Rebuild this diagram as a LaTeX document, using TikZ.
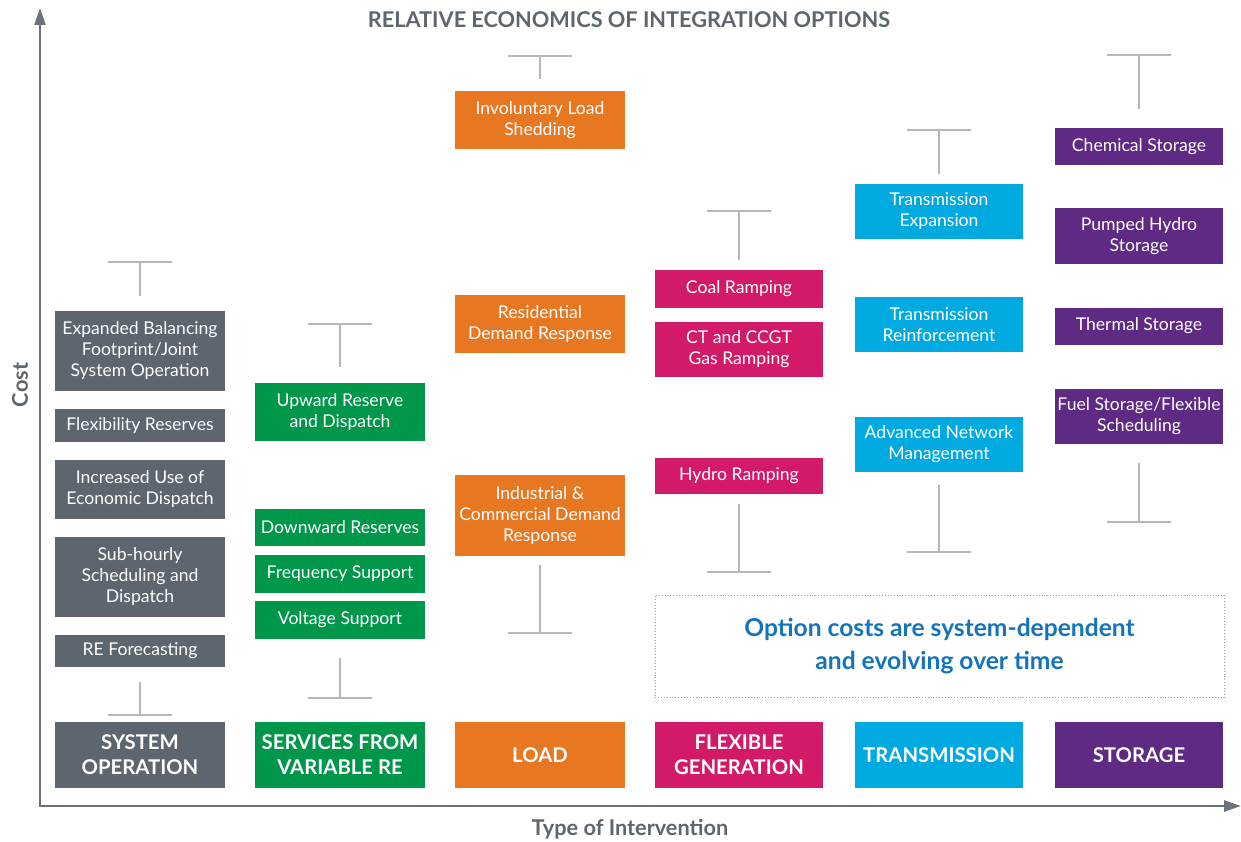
\documentclass[tikz,border=0pt]{standalone}
\usepackage{fontspec}
\setmainfont{Lato}
\usetikzlibrary{arrows.meta}
\definecolor{cgray}{HTML}{5D666E}
\definecolor{cgreen}{HTML}{00974A}
\definecolor{corange}{HTML}{E87722}
\definecolor{cpink}{HTML}{D31A68}
\definecolor{cblue}{HTML}{00A9E0}
\definecolor{cpurple}{HTML}{5E2A84}
\definecolor{whiskgray}{HTML}{B5B8BB}
\definecolor{axisgray}{HTML}{6B737A}
\definecolor{notblue}{HTML}{1474BA}
\definecolor{dotgray}{HTML}{9A9FA4}
\begin{document}
\begin{tikzpicture}[x=1pt,y=-1pt,
  opt/.style={inner sep=0pt, align=center, text=white, font=\fontsize{17.6}{21}\selectfont, minimum width=170pt},
  opts/.style={opt, minimum width=168pt},
  cat/.style={inner sep=0pt, align=center, text=white, font=\bfseries\fontsize{20.3}{25}\selectfont, minimum height=66pt},
  whisk/.style={draw=whiskgray, line width=1.8pt},
  axis/.style={draw=axisgray, line width=2.6pt, -{Triangle[length=17pt,width=11pt]}},
  lbl/.style={text=cgray, font=\bfseries\fontsize{21.7}{25}\selectfont}
]
\useasboundingbox (0,0) rectangle (1241,842);

% axes
\coordinate (o) at (40,806);
\coordinate (ytop) at (40,8);
\coordinate (xend) at (1241,806);
\draw[axis] (o) -- (ytop);
\draw[axis] ([xshift=-1.3pt]o) -- (xend);
\node[lbl] (title) at (629,19.5) {RELATIVE ECONOMICS OF INTEGRATION OPTIONS};
\node[lbl, rotate=90] (cost) at (20,385) {Cost};
\node[lbl] (toi) at (630,829) {Type of Intervention};

% column 1: system operation
\node[opt, fill=cgray, minimum height=80pt] (exp) at (140,351) {Expanded Balancing\\Footprint/Joint\\System Operation};
\node[opt, fill=cgray, minimum height=33pt] (flexres) at (140,425.5) {Flexibility Reserves};
\node[opt, fill=cgray, minimum height=59pt] (inc) at (140,489.5) {Increased Use of\\Economic Dispatch};
\node[opt, fill=cgray, minimum height=80pt] (sub) at (140,577) {Sub-hourly\\Scheduling and\\Dispatch};
\node[opt, fill=cgray, minimum height=32pt] (ref) at (140,651) {RE Forecasting};
\node[cat, fill=cgray, minimum width=170pt] (sysop) at (140,755) {SYSTEM\\OPERATION};

% column 2: services from variable RE
\node[opt, fill=cgreen, minimum height=58pt] (up) at (340,412) {Upward Reserve\\and Dispatch};
\node[opt, fill=cgreen, minimum height=37pt] (down) at (340,527.5) {Downward Reserves};
\node[opt, fill=cgreen, minimum height=38pt] (freq) at (340,574) {Frequency Support};
\node[opt, fill=cgreen, minimum height=38pt] (volt) at (340,620) {Voltage Support};
\node[cat, fill=cgreen, minimum width=170pt] (svc) at (340,755) {SERVICES FROM\\VARIABLE RE};

% column 3: load
\node[opt, fill=corange, minimum height=58pt] (invol) at (540,120) {Involuntary Load\\Shedding};
\node[opt, fill=corange, minimum height=58pt] (res) at (540,324) {Residential\\Demand Response};
\node[opt, fill=corange, minimum height=81pt] (ind) at (540,515.5) {Industrial \&\\Commercial Demand\\Response};
\node[cat, fill=corange, minimum width=170pt] (load) at (540,755) {LOAD};

% column 4: flexible generation
\node[opts, fill=cpink, minimum height=38pt] (coal) at (739,289) {Coal Ramping};
\node[opts, fill=cpink, minimum height=55pt] (ct) at (739,349.5) {CT and CCGT\\Gas Ramping};
\node[opts, fill=cpink, minimum height=36pt] (hydro) at (739,476) {Hydro Ramping};
\node[cat, fill=cpink, minimum width=168pt] (flexgen) at (739,755) {FLEXIBLE\\GENERATION};

% column 5: transmission
\node[opts, fill=cblue, minimum height=55pt] (txexp) at (939,211.5) {Transmission\\Expansion};
\node[opts, fill=cblue, minimum height=55pt] (txrein) at (939,324.5) {Transmission\\Reinforcement};
\node[opts, fill=cblue, minimum height=55pt] (adv) at (939,444) {Advanced Network\\Management};
\node[cat, fill=cblue, minimum width=168pt] (trans) at (939,755) {TRANSMISSION};

% column 6: storage
\node[opts, fill=cpurple, minimum height=37pt] (chem) at (1139,146.5) {Chemical Storage};
\node[opts, fill=cpurple, minimum height=55pt] (pump) at (1139,236) {Pumped Hydro\\Storage};
\node[opts, fill=cpurple, minimum height=37pt] (therm) at (1139,326) {Thermal Storage};
\node[opts, fill=cpurple, minimum height=55pt] (fuel) at (1139,416) {Fuel Storage/Flexible\\Scheduling};
\node[cat, fill=cpurple, minimum width=168pt] (stor) at (1139,755) {STORAGE};

% note box
\node[draw=dotgray, dotted, line width=0.9pt, minimum width=569pt, minimum height=102pt, inner sep=0pt,
      align=center, text=notblue, font=\bfseries\fontsize{24.6}{33}\selectfont] (note) at (939.5,646)
      {Option costs are system-dependent\\and evolving over time};

% whiskers (upper: T, lower: inverted T)
\coordinate (t1) at (140,262);  \draw[whisk] ([xshift=-32pt]t1) -- ([xshift=32pt]t1) (t1) -- ++(0,34);
\coordinate (b1) at (140,715);  \draw[whisk] ([xshift=-32pt]b1) -- ([xshift=32pt]b1) (b1) -- ++(0,-33);
\coordinate (t2) at (340,324);  \draw[whisk] ([xshift=-32pt]t2) -- ([xshift=32pt]t2) (t2) -- ++(0,43);
\coordinate (b2) at (340,698);  \draw[whisk] ([xshift=-32pt]b2) -- ([xshift=32pt]b2) (b2) -- ++(0,-40);
\coordinate (t3) at (540,56);   \draw[whisk] ([xshift=-32pt]t3) -- ([xshift=32pt]t3) (t3) -- ++(0,23);
\coordinate (b3) at (540,633);  \draw[whisk] ([xshift=-32pt]b3) -- ([xshift=32pt]b3) (b3) -- ++(0,-68);
\coordinate (t4) at (739,211);  \draw[whisk] ([xshift=-32pt]t4) -- ([xshift=32pt]t4) (t4) -- ++(0,49);
\coordinate (b4) at (739,572);  \draw[whisk] ([xshift=-32pt]b4) -- ([xshift=32pt]b4) (b4) -- ++(0,-68);
\coordinate (t5) at (939,130);  \draw[whisk] ([xshift=-32pt]t5) -- ([xshift=32pt]t5) (t5) -- ++(0,44);
\coordinate (b5) at (939,552);  \draw[whisk] ([xshift=-32pt]b5) -- ([xshift=32pt]b5) (b5) -- ++(0,-67);
\coordinate (t6) at (1139,55);  \draw[whisk] ([xshift=-32pt]t6) -- ([xshift=32pt]t6) (t6) -- ++(0,54);
\coordinate (b6) at (1139,522); \draw[whisk] ([xshift=-32pt]b6) -- ([xshift=32pt]b6) (b6) -- ++(0,-59);
\end{tikzpicture}
\end{document}
